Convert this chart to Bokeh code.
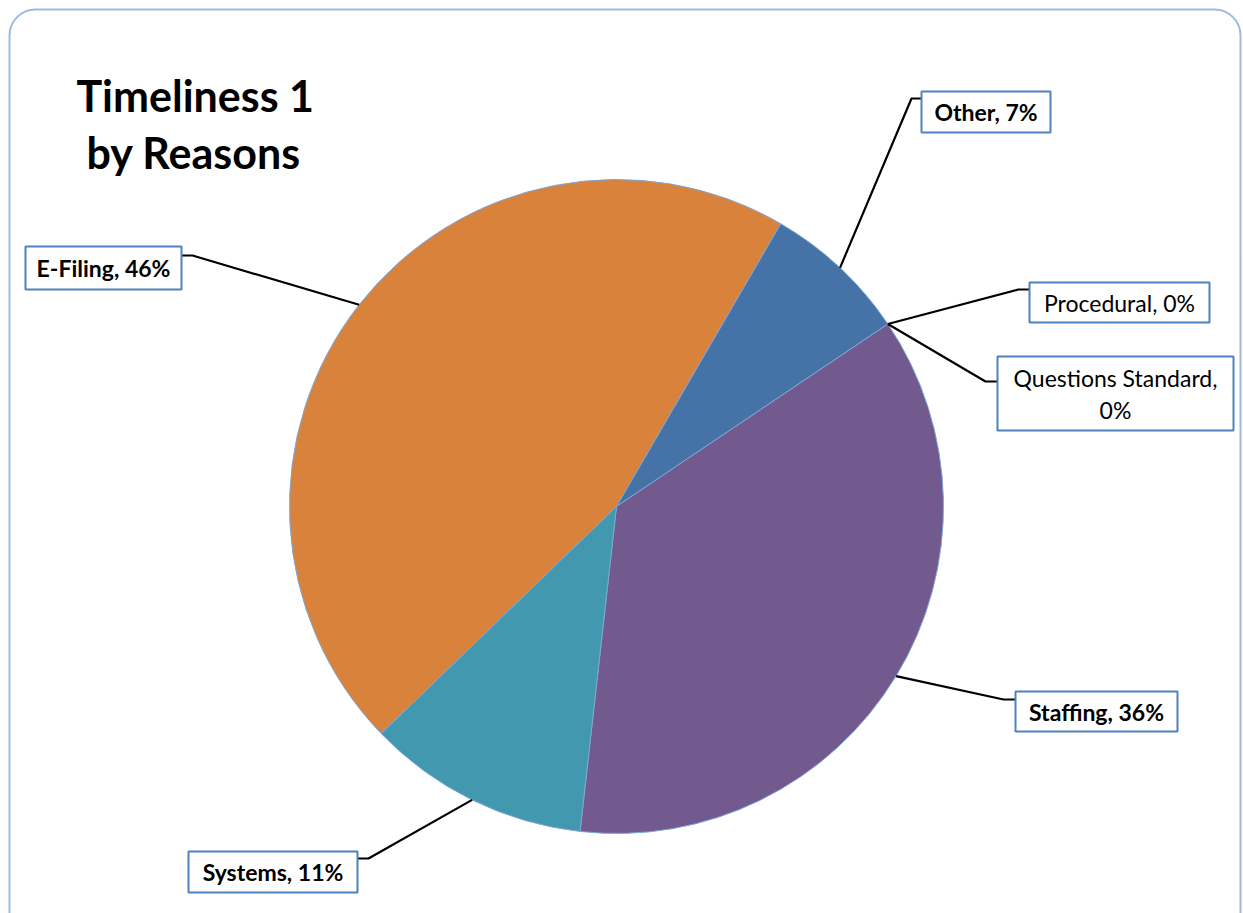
import math
from bokeh.plotting import figure
from bokeh.models import Range1d, BoxAnnotation, ColumnDataSource
from bokeh.core.properties import value
from bokeh.embed import file_html
from bokeh.resources import INLINE

# ---- data ----
categories = ["E-Filing", "Other", "Procedural", "Questions Standard", "Staffing", "Systems"]
shares = [45.6, 7.2, 0.0, 0.0, 36.2, 11.0]
label_texts = ["E-Filing, 46%", "Other, 7%", "Procedural, 0%", "Questions Standard,\n0%", "Staffing, 36%", "Systems, 11%"]
title_text = "Timeliness 1\nby Reasons"

# ---- style / layout ----
W, H = 1243, 913
colors = ["#D9823C", "#4573A7", "#4573A7", "#4573A7", "#72598E", "#4298AF"]
first_slice_deg = 226.0
cx, cy_s, R = 616, 506, 327
FONT = "Lato"

def Y(ys):
    return H - ys

p = figure(width=W, height=H, x_range=Range1d(0, W), y_range=Range1d(0, H),
           output_backend="svg", toolbar_location=None, min_border=0)
p.axis.visible = False
p.grid.visible = False
p.outline_line_color = None
p.background_fill_color = "white"
p.border_fill_color = "white"

# frame
p.add_layout(BoxAnnotation(left=9, right=1240, top=Y(9), bottom=-30, border_radius=26,
                           fill_alpha=0, line_color="#9DBAE0", line_alpha=1.0, line_width=2))

# wedges
total = sum(shares)
starts, ends, mids = [], [], []
acc = first_slice_deg
for v in shares:
    a0 = acc
    a1 = acc + 360.0 * v / total
    starts.append(math.radians(90 - a0))
    ends.append(math.radians(90 - a1))
    mids.append((a0 + a1) / 2.0)
    acc = a1
keep = [i for i, v in enumerate(shares) if v > 0]
src = ColumnDataSource(dict(cat=[categories[i] for i in keep],
                            start=[starts[i] for i in keep],
                            end=[ends[i] for i in keep],
                            color=[colors[i] for i in keep]))
p.wedge(x=cx, y=Y(cy_s), radius=R, start_angle="start", end_angle="end", direction="clock",
        fill_color="color", line_color="#7FA6D6", line_width=1, source=src)

# labels: (box left, top, right, bottom in screen px, elbow point, attach point, bold)
layout = {
    "E-Filing": dict(box=(25, 246, 181, 289), elbow=(192, 255), attach=(181, 255), bold=True),
    "Other": dict(box=(921, 91, 1050, 132), elbow=(911, 98), attach=(921, 98), bold=True),
    "Procedural": dict(box=(1029, 282, 1209, 322), elbow=(1018, 289), attach=(1029, 289), bold=False),
    "Questions Standard": dict(box=(997, 356, 1233, 430), elbow=(985, 381), attach=(997, 381), bold=False),
    "Staffing": dict(box=(1015, 691, 1177, 731), elbow=(1003, 699), attach=(1015, 699), bold=True),
    "Systems": dict(box=(188, 851, 357, 892), elbow=(368, 858), attach=(357, 858), bold=True),
}

for i, cat in enumerate(categories):
    L = layout[cat]
    m = math.radians(mids[i])
    ex = cx + R * math.sin(m)
    ey = cy_s - R * math.cos(m)
    xs = [ex, L["elbow"][0], L["attach"][0]]
    ys = [Y(ey), Y(L["elbow"][1]), Y(L["attach"][1])]
    p.line(xs, ys, line_color="black", line_width=2.2)
    l, t, r, b = L["box"]
    p.quad(left=l, right=r, top=Y(t), bottom=Y(b), fill_color="white",
           line_color="#4F81BD", line_width=2)
    lines = label_texts[i].split("\n")
    n = len(lines)
    cyb = (t + b) / 2.0
    lh = 32
    for j, ln in enumerate(lines):
        yy = cyb + (j - (n - 1) / 2.0) * lh
        p.text(x=[(l + r) / 2.0], y=[Y(yy)], text=[ln], text_align="center", text_baseline="middle",
               text_font=value(FONT), text_font_size="23px",
               text_font_style="bold" if L["bold"] else "normal", text_color="black")

# title
for j, ln in enumerate(title_text.split("\n")):
    p.text(x=[76 if j == 0 else 86], y=[Y(95 + j * 57)], text=[ln], text_align="left",
           text_baseline="alphabetic", text_font=value(FONT), text_font_size="43px",
           text_font_style="bold", text_color="black")

open("out.html", "w").write(file_html(p, INLINE))
